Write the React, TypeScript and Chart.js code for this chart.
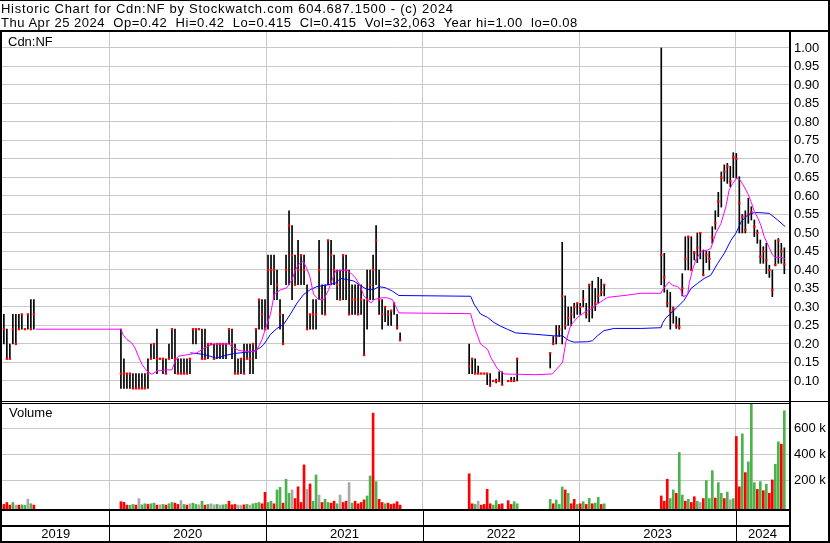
import React, { useEffect, useRef } from 'react';
import { Chart, registerables } from 'chart.js';

Chart.register(...registerables);

const FONT_FAMILY = '"Liberation Sans", Arial, Helvetica, sans-serif';
const WIDTH = 830;
const HEIGHT = 543;
const GRID = '#c8c8c8';

const headerLine1 = 'Historic Chart for Cdn:NF by Stockwatch.com 604.687.1500 - (c) 2024';
const headerLine2 =
  'Thu Apr 25 2024  Op=0.42  Hi=0.42  Lo=0.415  Cl=0.415  Vol=32,063  Year hi=1.00  lo=0.08';
const symbolLabel = 'Cdn:NF';
const volumeLabel = 'Volume';

// Time runs in weeks counted from 1 Jan 2019 (week 0).
const firstWeek = 16.38;
const lastWeek = 278.55;
const yearLabels = ['2019', '2020', '2021', '2022', '2023', '2024'];
const yearStartWeeks = [0, 52.14, 104.43, 156.57, 208.71, 260.86, 313.0];

const priceMin = 0.0432;
const priceMax = 1.0432;
const priceTicks = [
  0.1, 0.15, 0.2, 0.25, 0.3, 0.35, 0.4, 0.45, 0.5, 0.55,
  0.6, 0.65, 0.7, 0.75, 0.8, 0.85, 0.9, 0.95, 1.0,
];
// volume axis in thousands of shares
const volumeMinK = -20;
const volumeMaxK = 800;
const volumeTicksK = [200, 400, 600];

// Weekly trading ranges
const weeks = [
  // 2019
  17, 18, 19, 20, 21, 22, 23, 24, 25, 26, 27,
  // 2020 - 2021
  56, 57, 58, 59, 60, 61, 62, 63, 64, 65,
  66, 67, 68, 69, 70, 71, 72, 73, 74, 75,
  76, 77, 78, 79, 80, 81, 82, 83, 84, 85,
  86, 87, 88, 89, 90, 91, 92, 93, 94, 95,
  96, 97, 98, 99, 100, 101, 102, 103, 104, 105,
  106, 107, 108, 109, 110, 111, 112, 113, 114, 115,
  116, 117, 118, 119, 120, 121, 122, 123, 124, 125,
  126, 127, 128, 129, 130, 131, 132, 133, 134, 135,
  136, 137, 138, 139, 140, 141, 142, 143, 144, 145,
  146, 147, 148, 149,
  // 2022, first half
  172, 173, 174, 175, 176, 177, 178, 179, 180, 181, 182, 183, 185, 186, 187, 188,
  // 2022, second half
  199, 200, 201, 202, 203, 204, 205, 206, 207, 208, 209, 210, 211, 212, 213, 214, 215, 216, 217,
  // 2023 - 2024
  236, 237, 238, 239, 240, 241, 242, 243, 244, 245,
  246, 247, 248, 249, 250, 251, 252, 253, 254, 255,
  256, 257, 258, 259, 260, 261, 262, 263, 264, 265,
  266, 267, 268, 269, 270, 271, 272, 273, 274, 275,
  276, 277,
];

const highs = [
  0.28, 0.24, 0.2, 0.28, 0.28, 0.28, 0.28, 0.24, 0.28, 0.32, 0.32,
  0.24, 0.16, 0.12, 0.12, 0.12, 0.12, 0.12, 0.12, 0.12, 0.16,
  0.2, 0.2, 0.24, 0.16, 0.16, 0.16, 0.2, 0.24, 0.24, 0.16,
  0.16, 0.16, 0.16, 0.16, 0.24, 0.24, 0.24, 0.24, 0.24, 0.2,
  0.2, 0.2, 0.2, 0.2, 0.2, 0.2, 0.24, 0.24, 0.2, 0.16,
  0.16, 0.2, 0.2, 0.2, 0.2, 0.24, 0.32, 0.32, 0.32, 0.44,
  0.44, 0.44, 0.4, 0.32, 0.28, 0.44, 0.56, 0.52, 0.44, 0.48,
  0.44, 0.44, 0.36, 0.28, 0.32, 0.32, 0.48, 0.36, 0.36, 0.48,
  0.48, 0.44, 0.4, 0.4, 0.44, 0.44, 0.4, 0.36, 0.36, 0.36,
  0.36, 0.32, 0.4, 0.4, 0.44, 0.52, 0.4, 0.32, 0.3, 0.29,
  0.29, 0.31, 0.28, 0.23,
  0.2, 0.16, 0.16, 0.14, 0.12, 0.12, 0.12, 0.12, 0.1, 0.105, 0.125, 0.125, 0.1, 0.11, 0.11, 0.16,
  0.175, 0.22, 0.25, 0.25, 0.475, 0.33, 0.3, 0.3, 0.31, 0.31, 0.31, 0.345, 0.31, 0.36, 0.37, 0.35, 0.38, 0.375, 0.36,
  1.0, 0.445, 0.346, 0.34, 0.3, 0.274, 0.27, 0.39, 0.49, 0.49,
  0.49, 0.45, 0.5, 0.5, 0.454, 0.45, 0.45, 0.517, 0.56, 0.61,
  0.665, 0.684, 0.688, 0.68, 0.717, 0.715, 0.652, 0.55, 0.56, 0.594,
  0.571, 0.535, 0.508, 0.481, 0.463, 0.472, 0.413, 0.4, 0.481, 0.485,
  0.472, 0.46,
];

const lows = [
  0.2, 0.16, 0.16, 0.2, 0.2, 0.24, 0.24, 0.24, 0.24, 0.24, 0.24,
  0.08, 0.08, 0.08, 0.08, 0.08, 0.08, 0.08, 0.08, 0.08, 0.08,
  0.16, 0.16, 0.12, 0.16, 0.12, 0.12, 0.16, 0.16, 0.12, 0.12,
  0.12, 0.12, 0.12, 0.12, 0.2, 0.2, 0.24, 0.16, 0.16, 0.16,
  0.2, 0.16, 0.16, 0.16, 0.16, 0.16, 0.2, 0.16, 0.12, 0.12,
  0.12, 0.12, 0.16, 0.12, 0.12, 0.16, 0.24, 0.24, 0.24, 0.24,
  0.36, 0.32, 0.32, 0.24, 0.2, 0.36, 0.36, 0.32, 0.36, 0.36,
  0.36, 0.36, 0.24, 0.24, 0.24, 0.24, 0.32, 0.28, 0.28, 0.36,
  0.36, 0.36, 0.32, 0.32, 0.32, 0.32, 0.28, 0.28, 0.28, 0.28,
  0.28, 0.17, 0.24, 0.32, 0.32, 0.36, 0.28, 0.24, 0.26, 0.25,
  0.25, 0.28, 0.24, 0.21,
  0.12, 0.12, 0.12, 0.12, 0.12, 0.12, 0.09, 0.085, 0.1, 0.095, 0.1, 0.09, 0.1, 0.1, 0.1, 0.1,
  0.135, 0.2, 0.2, 0.22, 0.2, 0.24, 0.25, 0.25, 0.27, 0.28, 0.28, 0.3, 0.27, 0.26, 0.27, 0.29, 0.31, 0.33, 0.33,
  0.36, 0.34, 0.3, 0.24, 0.256, 0.242, 0.24, 0.33, 0.4, 0.4,
  0.4, 0.427, 0.42, 0.43, 0.386, 0.42, 0.4, 0.472, 0.51, 0.544,
  0.57, 0.64, 0.634, 0.625, 0.65, 0.648, 0.5, 0.5, 0.5, 0.526,
  0.535, 0.49, 0.472, 0.418, 0.418, 0.39, 0.38, 0.328, 0.413, 0.418,
  0.418, 0.39,
];

const closes = [
  0.24, 0.16, 0.16, 0.24, 0.2, 0.24, 0.28, 0.24, 0.28, 0.24, 0.28,
  0.12, 0.12, 0.12, 0.12, 0.08, 0.08, 0.08, 0.08, 0.08, 0.12,
  0.16, 0.2, 0.16, 0.16, 0.16, 0.12, 0.16, 0.24, 0.16, 0.12,
  0.12, 0.12, 0.12, 0.16, 0.24, 0.24, 0.24, 0.16, 0.16, 0.2,
  0.2, 0.16, 0.2, 0.2, 0.2, 0.2, 0.24, 0.2, 0.12, 0.12,
  0.16, 0.12, 0.16, 0.16, 0.2, 0.24, 0.32, 0.28, 0.24, 0.4,
  0.4, 0.4, 0.36, 0.28, 0.2, 0.4, 0.52, 0.44, 0.36, 0.4,
  0.44, 0.4, 0.24, 0.28, 0.28, 0.28, 0.4, 0.32, 0.28, 0.48,
  0.44, 0.4, 0.36, 0.32, 0.44, 0.4, 0.28, 0.32, 0.32, 0.28,
  0.32, 0.17, 0.32, 0.36, 0.4, 0.48, 0.32, 0.28, 0.3, 0.28,
  0.29, 0.31, 0.245, 0.21,
  0.14, 0.16, 0.12, 0.12, 0.12, 0.12, 0.12, 0.09, 0.1, 0.1, 0.1, 0.09, 0.1, 0.1, 0.1, 0.16,
  0.175, 0.2, 0.22, 0.24, 0.33, 0.25, 0.27, 0.28, 0.3, 0.31, 0.3, 0.32, 0.28, 0.36, 0.3, 0.31, 0.33, 0.34, 0.36,
  0.44, 0.38, 0.31, 0.29, 0.296, 0.25, 0.245, 0.35, 0.43, 0.49,
  0.4, 0.447, 0.46, 0.5, 0.386, 0.44, 0.43, 0.488, 0.526, 0.585,
  0.65, 0.666, 0.68, 0.64, 0.705, 0.7, 0.58, 0.544, 0.508, 0.55,
  0.556, 0.517, 0.5, 0.436, 0.45, 0.427, 0.4, 0.346, 0.413, 0.48,
  0.45, 0.415,
];

// thousands of shares
const volumesK = [
  15, 30, 10, 30, 10, 10, 12, 8, 55, 20, 10,
  36, 31, 10, 8, 15, 10, 60, 12, 20, 15,
  20, 25, 10, 12, 15, 10, 20, 30, 25, 15,
  45, 15, 10, 20, 25, 15, 12, 40, 10, 15,
  20, 12, 15, 10, 12, 15, 40, 12, 15, 10,
  10, 12, 15, 10, 20, 25, 30, 20, 108, 30,
  40, 20, 126, 146, 25, 208, 100, 126, 60, 150,
  30, 318, 130, 172, 40, 241, 87, 30, 54, 30,
  25, 40, 20, 87, 30, 40, 182, 25, 40, 20,
  30, 50, 80, 233, 715, 190, 54, 30, 20, 25,
  15, 20, 36, 10,
  250, 20, 15, 40, 10, 15, 131, 20, 10, 44, 15, 20, 44, 15, 36, 20,
  54, 20, 49, 15, 149, 126, 100, 20, 54, 15, 20, 36, 15, 62, 20, 25, 69, 15, 20,
  80, 40, 208, 60, 126, 100, 413, 87, 40, 54,
  30, 74, 40, 30, 60, 198, 60, 274, 64, 182,
  100, 60, 110, 50, 60, 536, 150, 556, 259, 341,
  830, 182, 130, 190, 120, 170, 100, 203, 323, 495,
  477, 733,
];

// d = down day, u = up day, n = unchanged
const volumeTones = (
  'dddunduunud' +
  'ddduudnuud' + 'uudnuduudd' + 'nudnuunudu' + 'nnunuudddn' + 'ndunuuuddu' +
  'uduuduundd' + 'ddnduunduu' + 'ddunddnudd' + 'dduududdud' + 'dddd' +
  'ddundddduudddduu' +
  'uduuududdudududuudu' +
  'ddduuduudu' + 'ddunduuudu' + 'udunuddudu' + 'uudududduu' + 'du'
).split('');

// Short moving average (magenta)
const fastAvgWeeks = [
  27.7, 56.1, 56.6, 58.0, 59.6, 60.7, 61.8, 63.0, 64.6, 66.3,
  68.0, 71.3, 73.0, 74.1, 75.2, 77.4, 79.1, 81.3, 83.0, 85.2,
  86.9, 91.9, 93.5, 95.2, 97.4, 100.8, 101.9, 103.0, 104.1, 105.8,
  107.1, 109.1, 111.3, 113.0, 114.1, 115.2, 116.7, 117.8, 118.9, 120.2,
  121.9, 123.6, 125.2, 126.4, 127.5, 131.1, 132.5, 134.1, 135.8, 136.9,
  138.0, 139.4, 140.2, 143.0, 144.7, 146.4, 147.5, 148.6, 172.5, 173.6,
  175.8, 178.1, 179.2, 181.4, 183.6, 194.2, 199.7, 203.1, 204.2, 205.8,
  208.1, 210.3, 212.5, 214.7, 218.1, 224.7, 229.2, 235.9, 236.4, 238.6,
  239.7, 241.4, 242.5, 243.4, 244.8, 245.3, 246.4, 247.5, 249.2, 251.4,
  252.5, 254.2, 255.9, 257.5, 258.6, 259.8, 261.1, 262.3, 263.6, 264.8,
  265.9, 267.0, 268.2, 269.2, 270.3, 272.0, 273.1, 273.9, 275.9, 277.3,
];
const fastAvg = [
  0.24, 0.24, 0.226, 0.212, 0.203, 0.189, 0.167, 0.145, 0.127, 0.118,
  0.127, 0.13, 0.13, 0.155, 0.167, 0.17, 0.172, 0.176, 0.185, 0.195,
  0.2, 0.2, 0.19, 0.183, 0.18, 0.18, 0.194, 0.212, 0.24, 0.28,
  0.335, 0.346, 0.352, 0.374, 0.4, 0.415, 0.424, 0.406, 0.383, 0.334,
  0.32, 0.32, 0.347, 0.374, 0.397, 0.4, 0.392, 0.379, 0.356, 0.33,
  0.32, 0.311, 0.32, 0.325, 0.325, 0.32, 0.302, 0.284, 0.282, 0.249,
  0.2, 0.186, 0.164, 0.133, 0.119, 0.117, 0.119, 0.15, 0.205, 0.25,
  0.272, 0.285, 0.294, 0.308, 0.326, 0.332, 0.337, 0.337, 0.346, 0.368,
  0.359, 0.355, 0.346, 0.328, 0.333, 0.364, 0.4, 0.427, 0.45, 0.454,
  0.458, 0.5, 0.526, 0.57, 0.616, 0.634, 0.648, 0.643, 0.625, 0.607,
  0.585, 0.558, 0.54, 0.52, 0.49, 0.46, 0.44, 0.434, 0.434, 0.43,
];

// Long moving average (blue)
const slowAvgWeeks = [
  79.1, 81.3, 83.5, 85.8, 87.4, 89.1, 91.3, 93.5, 95.8, 98.0,
  100.2, 102.4, 103.5, 104.7, 105.8, 108.0, 110.2, 112.4, 114.7, 116.9,
  119.1, 121.3, 123.6, 125.8, 127.5, 129.1, 131.4, 133.6, 135.8, 138.0,
  140.2, 141.9, 144.1, 146.4, 148.6, 172.5, 173.6, 175.8, 178.1, 180.3,
  182.5, 184.7, 187.5, 194.2, 200.3, 203.1, 205.3, 207.0, 211.4, 213.1,
  214.7, 216.9, 220.3, 229.2, 235.9, 236.4, 237.5, 239.2, 241.4, 243.6,
  245.9, 248.1, 250.3, 252.5, 254.8, 257.0, 259.2, 260.9, 262.6, 264.8,
  267.0, 268.6, 272.0, 274.8, 277.3,
];
const slowAvg = [
  0.176, 0.174, 0.172, 0.167, 0.162, 0.165, 0.17, 0.174, 0.176, 0.178,
  0.18, 0.19, 0.198, 0.212, 0.226, 0.242, 0.253, 0.28, 0.311, 0.334,
  0.347, 0.355, 0.358, 0.361, 0.365, 0.377, 0.374, 0.37, 0.358, 0.347,
  0.347, 0.355, 0.352, 0.343, 0.331, 0.329, 0.308, 0.281, 0.272, 0.258,
  0.248, 0.24, 0.23, 0.226, 0.222, 0.222, 0.209, 0.205, 0.206, 0.209,
  0.222, 0.236, 0.242, 0.242, 0.244, 0.256, 0.27, 0.283, 0.3, 0.318,
  0.35, 0.364, 0.377, 0.386, 0.418, 0.445, 0.48, 0.5, 0.53, 0.549,
  0.555, 0.555, 0.553, 0.535, 0.517,
];

const toneColour: Record<string, string> = { d: '#ff0000', u: '#4cb34c', n: '#a8a8a8' };

export default function App() {
  const canvasRef = useRef<HTMLCanvasElement>(null);

  useEffect(() => {
    document.body.style.margin = '0';
    const canvas = canvasRef.current;
    if (!canvas) return;

    Chart.defaults.font.family = FONT_FAMILY;
    Chart.defaults.font.size = 13;
    Chart.defaults.color = '#000';

    const innerYearStarts = yearStartWeeks.filter((w) => w > firstWeek && w < lastWeek);
    const yearMids = yearLabels.map((_, i) => {
      const a = Math.max(yearStartWeeks[i], firstWeek);
      const b = Math.min(yearStartWeeks[i + 1], lastWeek);
      return (a + b) / 2;
    });

    // keep each dataset inside its own pane
    const paneClip = {
      id: 'paneClip',
      beforeDatasetDraw(chart: any, args: any) {
        const ctx = chart.ctx;
        ctx.save();
        const yScale = chart.scales[args.meta.yAxisID];
        if (yScale) {
          const ca = chart.chartArea;
          ctx.beginPath();
          ctx.rect(ca.left, yScale.top, ca.right - ca.left, yScale.bottom - yScale.top);
          ctx.clip();
        }
      },
      afterDatasetDraw(chart: any) {
        chart.ctx.restore();
      },
    };

    // black frame, pane separators and the date rows
    const frame = {
      id: 'frame',
      afterDraw(chart: any) {
        const { ctx, chartArea: ca, width, height } = chart;
        const price = chart.scales.price;
        const xs = chart.scales.x;
        ctx.save();
        ctx.fillStyle = '#000';
        ctx.fillRect(0, 0, width, 1);
        ctx.fillRect(0, ca.top - 2, width, 2);
        ctx.fillRect(0, ca.top, 2, height - ca.top);
        ctx.fillRect(width - 2, 0, 2, height);
        ctx.fillRect(0, height - 2, width, 2);
        ctx.fillRect(ca.right, ca.top - 2, 2, height - ca.top + 2);
        const sep = Math.round(price.bottom);
        ctx.fillRect(0, sep - 1, width - 2, 1);
        ctx.fillStyle = '#fff';
        ctx.fillRect(ca.left, sep, ca.right - ca.left, 1);
        ctx.fillStyle = '#000';
        ctx.fillRect(0, sep + 1, ca.right, 1);
        ctx.fillRect(0, Math.round(ca.bottom), ca.right, 2);
        ctx.fillRect(0, Math.round(xs.bottom) - 1, ca.right, 2);
        for (const w of innerYearStarts) {
          const px = Math.round(xs.getPixelForValue(w));
          ctx.fillRect(px, ca.bottom, 1, height - ca.bottom);
        }
        ctx.restore();
      },
    };

    const chart = new Chart(canvas, {
      type: 'bar',
      data: {
        datasets: [
          {
            type: 'line',
            label: 'Short average',
            data: fastAvgWeeks.map((w, i) => ({ x: w, y: fastAvg[i] })),
            borderColor: '#ff00ff',
            borderWidth: 1,
            pointRadius: 0,
            tension: 0,
            fill: false,
            xAxisID: 'x',
            yAxisID: 'price',
            order: 1,
          },
          {
            type: 'line',
            label: 'Long average',
            data: slowAvgWeeks.map((w, i) => ({ x: w, y: slowAvg[i] })),
            borderColor: '#0000ff',
            borderWidth: 1,
            pointRadius: 0,
            tension: 0,
            fill: false,
            xAxisID: 'x',
            yAxisID: 'price',
            order: 2,
          },
          {
            type: 'line',
            label: 'Close',
            data: weeks.map((w, i) => ({ x: w, y: closes[i] })),
            showLine: false,
            pointStyle: 'rect',
            pointRadius: 1.6,
            pointHoverRadius: 1.6,
            pointBackgroundColor: '#ff0000',
            pointBorderWidth: 0,
            xAxisID: 'x',
            yAxisID: 'price',
            order: 3,
          },
          {
            type: 'bar',
            label: 'Range',
            data: weeks.map((w, i) => ({ x: w, y: [lows[i], highs[i]] })),
            backgroundColor: '#000',
            borderWidth: 0,
            barThickness: 1,
            grouped: false,
            xAxisID: 'x',
            yAxisID: 'price',
            order: 4,
          },
          {
            type: 'bar',
            label: 'Volume',
            data: weeks.map((w, i) => ({ x: w, y: volumesK[i] })),
            backgroundColor: volumeTones.map((t) => toneColour[t]),
            borderWidth: 0,
            barThickness: 2,
            grouped: false,
            base: volumeMinK,
            xAxisID: 'x',
            yAxisID: 'vol',
            order: 5,
          },
        ] as any,
      },
      options: {
        responsive: false,
        animation: false,
        devicePixelRatio: 1,
        events: [],
        layout: { padding: { top: 32, left: 2, right: 0, bottom: 0 } },
        plugins: { legend: { display: false }, tooltip: { enabled: false } },
        scales: {
          x: {
            type: 'linear',
            position: 'bottom',
            weight: 0,
            min: firstWeek,
            max: lastWeek,
            bounds: 'data',
            offset: false,
            grid: { color: GRID, lineWidth: 1, drawTicks: false, offset: false },
            border: { display: false },
            ticks: { display: false },
            afterBuildTicks: (s: any) => {
              s.ticks = innerYearStarts.map((v) => ({ value: v }));
            },
            afterFit: (s: any) => {
              s.height = 17;
            },
          },
          years: {
            type: 'linear',
            axis: 'x',
            position: 'bottom',
            weight: 1,
            min: firstWeek,
            max: lastWeek,
            bounds: 'data',
            offset: false,
            grid: { display: false, drawTicks: false },
            border: { display: false },
            ticks: {
              autoSkip: false,
              maxRotation: 0,
              minRotation: 0,
              padding: 1,
              callback: (_v: any, i: number) => yearLabels[i],
            },
            afterBuildTicks: (s: any) => {
              s.ticks = yearMids.map((v) => ({ value: v }));
            },
            afterFit: (s: any) => {
              s.height = 17;
            },
          },
          price: {
            type: 'linear',
            position: 'right',
            stack: 'panes',
            stackWeight: 370,
            weight: 0,
            min: priceMin,
            max: priceMax,
            bounds: 'data',
            grid: { color: GRID, lineWidth: 1, drawTicks: false },
            border: { display: false },
            ticks: {
              padding: 5,
              autoSkip: false,
              callback: (v: any) => Number(v).toFixed(2),
            },
            afterBuildTicks: (s: any) => {
              s.ticks = priceTicks.map((v) => ({ value: v }));
            },
            afterFit: (s: any) => {
              s.width = 41;
            },
          },
          vol: {
            type: 'linear',
            position: 'right',
            stack: 'panes',
            stackWeight: 107,
            weight: 1,
            min: volumeMinK,
            max: volumeMaxK,
            bounds: 'data',
            grid: { color: GRID, lineWidth: 1, drawTicks: false },
            border: { display: false },
            ticks: {
              padding: 5,
              autoSkip: false,
              callback: (v: any) => `${v} k`,
            },
            afterBuildTicks: (s: any) => {
              s.ticks = volumeTicksK.map((v) => ({ value: v }));
            },
            afterFit: (s: any) => {
              s.width = 41;
            },
          },
        } as any,
      },
      plugins: [paneClip, frame],
    });

    return () => chart.destroy();
  }, []);

  const text: React.CSSProperties = {
    position: 'absolute',
    fontFamily: FONT_FAMILY,
    fontSize: 13,
    color: '#000',
    whiteSpace: 'pre',
    pointerEvents: 'none',
  };

  return (
    <div
      style={{
        position: 'absolute',
        left: 0,
        top: 0,
        width: WIDTH,
        height: HEIGHT,
        background: '#fff',
        overflow: 'hidden',
      }}
    >
      <canvas
        ref={canvasRef}
        width={WIDTH}
        height={HEIGHT}
        style={{ position: 'absolute', left: 0, top: 0, display: 'block' }}
      />
      <div style={{ ...text, left: 1, top: 2, lineHeight: '13.5px', letterSpacing: '0.73px' }}>
        {headerLine1}
      </div>
      <div style={{ ...text, left: 1, top: 15.5, lineHeight: '13.5px', letterSpacing: '0.53px' }}>
        {headerLine2}
      </div>
      <div style={{ ...text, left: 8, top: 35, lineHeight: '14px' }}>{symbolLabel}</div>
      <div style={{ ...text, left: 9, top: 406, lineHeight: '14px' }}>{volumeLabel}</div>
    </div>
  );
}
